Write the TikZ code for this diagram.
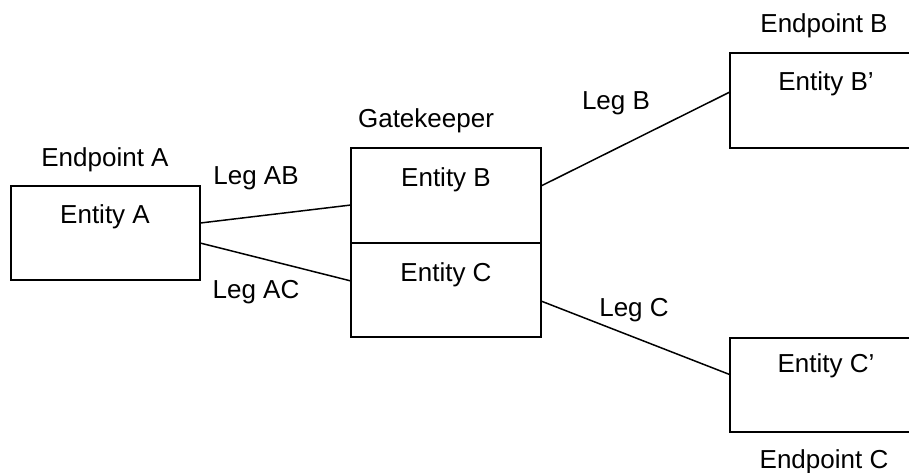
\documentclass[tikz,border=0pt]{standalone}
\usepackage{fontspec}
\setmainfont{Liberation Sans}
\usetikzlibrary{calc}
\begin{document}
\begin{tikzpicture}[x=0.5pt,y=-0.5pt,
  box/.style={draw,line width=0.75pt,inner sep=0pt,outer sep=0pt,rectangle},
  lbl/.style={anchor=base,inner sep=0pt,font=\fontsize{13}{15}\selectfont},
  leg/.style={line width=0.75pt}]
\useasboundingbox (0,0) rectangle (909,472);
\clip (0,0) rectangle (909,472);
\node[box,minimum width=94.5pt,minimum height=47pt] (A) at (105.5,233) {};
\node[box,minimum width=95pt,minimum height=47.5pt] (GB) at (446,195.5) {};
\node[box,minimum width=95pt,minimum height=47pt] (GC) at (446,290) {};
\node[box,minimum width=105pt,minimum height=47.5pt] (Bp) at (835,100.5) {};
\node[box,minimum width=105pt,minimum height=47pt] (Cp) at (835,385) {};
\node[lbl] (tEA) at (105,166) {Endpoint A};
\node[lbl] (tA) at (105,223) {Entity A};
\node[lbl] (tAB) at (256,184) {Leg AB};
\node[lbl] (tAC) at (256,298) {Leg AC};
\node[lbl] (tG) at (426,127) {Gatekeeper};
\node[lbl] (tB) at (446,186) {Entity B};
\node[lbl] (tC) at (446,281) {Entity C};
\node[lbl] (tLB) at (616,109) {Leg B};
\node[lbl] (tLC) at (634,316) {Leg C};
\node[lbl] (tEB) at (824,32) {Endpoint B};
\node[lbl] (tBp) at (826,90) {Entity B'};
\node[lbl] (tCp) at (826,372) {Entity C'};
\node[lbl] (tEC) at (824,468) {Endpoint C};
\draw[leg] ($(A.north east)!0.394!(A.south east)$) -- ($(GB.north west)!0.6!(GB.south west)$);
\draw[leg] ($(A.north east)!0.606!(A.south east)$) -- ($(GC.north west)!0.404!(GC.south west)$);
\draw[leg] ($(GB.north east)!0.4!(GB.south east)$) -- ($(Bp.north west)!0.41!(Bp.south west)$);
\draw[leg] ($(GC.north east)!0.617!(GC.south east)$) -- ($(Cp.north west)!0.39!(Cp.south west)$);
\end{tikzpicture}
\end{document}
